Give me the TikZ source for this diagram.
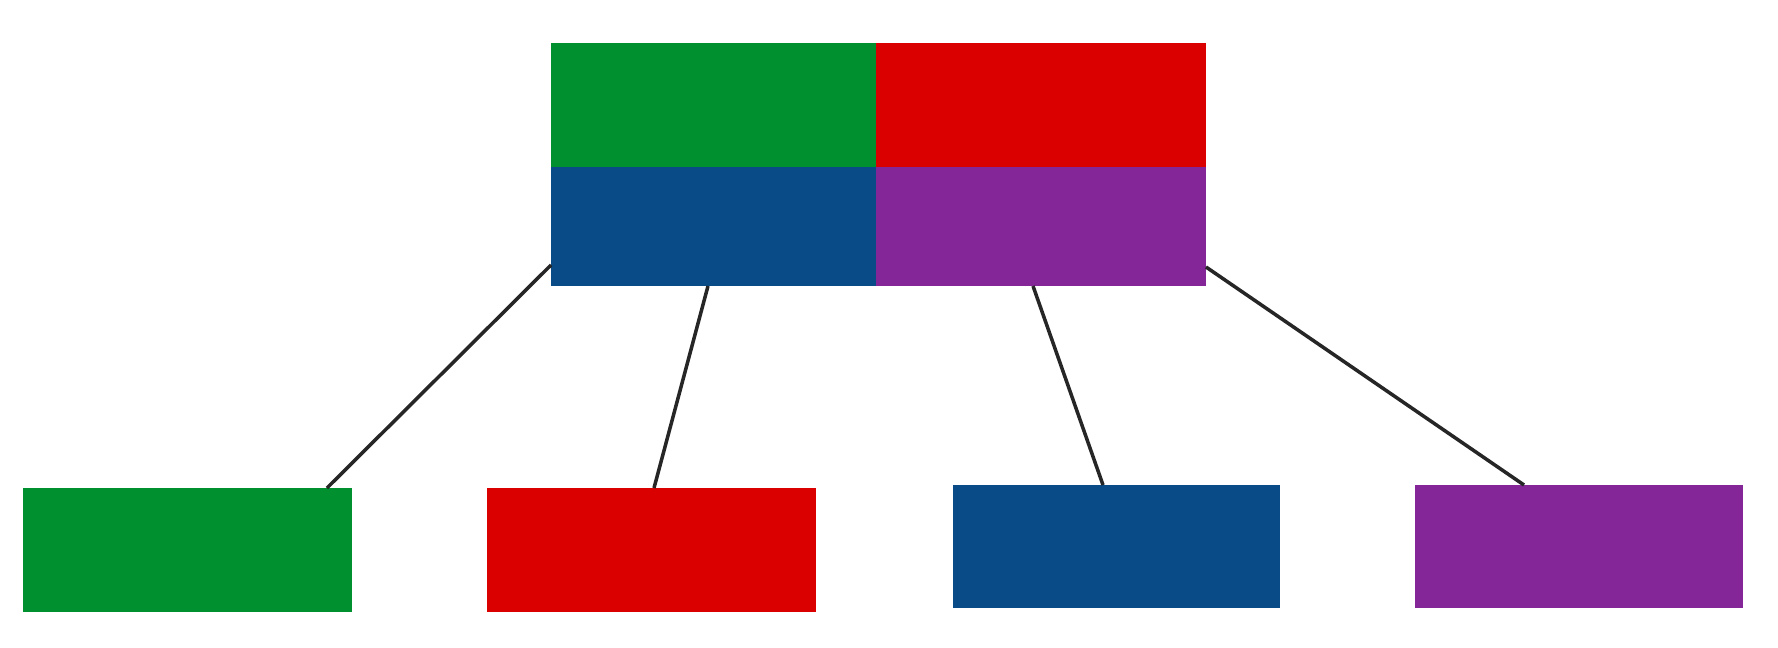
\documentclass[tikz,border=0pt]{standalone}
\definecolor{cgreen}{HTML}{009030}
\definecolor{cred}{HTML}{DA0000}
\definecolor{cblue}{HTML}{084B87}
\definecolor{cpurple}{HTML}{842697}
\definecolor{cline}{HTML}{262626}
\begin{document}
\begin{tikzpicture}[x=0.02cm,y=-0.02cm,
  cell/.style={rectangle,inner sep=0pt,outer sep=0pt,draw=none},
  conn/.style={draw=cline,line width=2pt}]
\useasboundingbox (0,0) rectangle (1778,648);
% top block
\node[cell,fill=cgreen,minimum width=6.5cm,minimum height=2.48cm] (tl) at (713.5,105) {};
\node[cell,fill=cred,minimum width=6.6cm,minimum height=2.48cm] (tr) at (1041,105) {};
\node[cell,fill=cblue,minimum width=6.5cm,minimum height=2.38cm] (bl) at (713.5,226.5) {};
\node[cell,fill=cpurple,minimum width=6.6cm,minimum height=2.38cm] (br) at (1041,226.5) {};
% bottom boxes
\node[cell,fill=cgreen,minimum width=6.58cm,minimum height=2.48cm] (g) at (187.5,550) {};
\node[cell,fill=cred,minimum width=6.58cm,minimum height=2.48cm] (r) at (651.5,550) {};
\node[cell,fill=cblue,minimum width=6.54cm,minimum height=2.46cm] (b) at (1116.5,546.5) {};
\node[cell,fill=cpurple,minimum width=6.56cm,minimum height=2.46cm] (p) at (1579,546.5) {};
% connectors
\draw[conn] ([shift={(0,-21)}]bl.south west) -- ([shift={(-25,0)}]g.north east);
\draw[conn] ([shift={(-5.5,0)}]bl.south) -- ([shift={(2.5,0)}]r.north);
\draw[conn] ([shift={(-8,0)}]br.south) -- ([shift={(-13.5,0)}]b.north);
\draw[conn] ([shift={(0,-19)}]br.south east) -- ([shift={(-55,0)}]p.north);
\end{tikzpicture}
\end{document}
